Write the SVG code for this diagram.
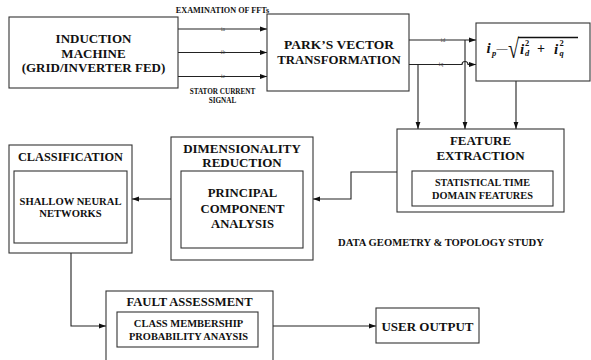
<svg xmlns="http://www.w3.org/2000/svg" width="591" height="360" viewBox="0 0 591 360">
  <defs>
    <marker id="arrow" markerWidth="7" markerHeight="6" refX="7" refY="3" orient="auto" markerUnits="userSpaceOnUse">
      <path d="M0,0.6 L7,3 L0,5.4 Z" fill="#111"/>
    </marker>
    <style>
      .box { fill: #fff; stroke: #333; stroke-width: 1.1; }
      .inner { fill: none; stroke: #333; stroke-width: 1.1; }
      .link { fill: none; stroke: #222; stroke-width: 1.1; }
      text { font-family: "Liberation Serif", "Times New Roman", serif; }
      .t { font-weight: bold; fill: #111; text-anchor: middle; }
      .sig { font-size: 5.5px; fill: #444; text-anchor: middle; }
      .math { font-style: italic; font-weight: bold; fill: #111; }
      .up { font-style: normal; font-weight: bold; fill: #111; }
    </style>
  </defs>

  <rect width="591" height="360" fill="#fff"/>

  <!-- connectors -->
  <g id="connectors">
    <line class="link" x1="178" y1="29" x2="267" y2="29" marker-end="url(#arrow)"/>
    <line class="link" x1="178" y1="52.5" x2="267" y2="52.5" marker-end="url(#arrow)"/>
    <line class="link" x1="178" y1="76.5" x2="267" y2="76.5" marker-end="url(#arrow)"/>
    <line class="link" x1="409" y1="40" x2="476" y2="40" marker-end="url(#arrow)"/>
    <path class="link" d="M409,64.5 H462 A3,3 0 0 1 468,64.5 H476" marker-end="url(#arrow)"/>
    <line class="link" x1="418" y1="64.5" x2="418" y2="129" marker-end="url(#arrow)"/>
    <line class="link" x1="465" y1="40" x2="465" y2="129" marker-end="url(#arrow)"/>
    <line class="link" x1="516" y1="81" x2="516" y2="129" marker-end="url(#arrow)"/>
    <path class="link" d="M397,172 H351 V199 H313" marker-end="url(#arrow)"/>
    <line class="link" x1="171" y1="199" x2="132" y2="199" marker-end="url(#arrow)"/>
    <path class="link" d="M71,253 V326 H106" marker-end="url(#arrow)"/>
    <line class="link" x1="273" y1="326" x2="376" y2="326" marker-end="url(#arrow)"/>
  </g>

  <!-- signal labels on the connectors -->
  <g id="signal-labels">
    <text class="t" x="222.5" y="12.7" font-size="8.2">EXAMINATION OF FFTs</text>
    <text class="sig" x="223" y="30.8">ia</text>
    <text class="sig" x="223" y="54.3">ib</text>
    <text class="sig" x="223" y="78.3">ic</text>
    <text class="t" x="222.5" y="94" font-size="7.2">STATOR CURRENT</text>
    <text class="t" x="222.5" y="102.7" font-size="7.2">SIGNAL</text>
    <text class="sig" x="443" y="41.8">id</text>
    <text class="sig" x="441" y="66.3">iq</text>
  </g>

  <g id="induction-machine">
    <rect class="box" x="9" y="17" width="169" height="71"/>
    <text class="t" x="93.5" y="42.7" font-size="13">INDUCTION</text>
    <text class="t" x="93.5" y="58.3" font-size="13">MACHINE</text>
    <text class="t" x="93.5" y="72.3" font-size="13">(GRID/INVERTER FED)</text>
  </g>

  <g id="parks-transformation">
    <rect class="box" x="267" y="14" width="142" height="77"/>
    <text class="t" x="339" y="49.3" font-size="13.5">PARK’S VECTOR</text>
    <text class="t" x="339" y="64" font-size="12.8">TRANSFORMATION</text>
  </g>

  <!-- magnitude of the Park's vector: ip = sqrt(id^2 + iq^2) -->
  <g id="current-magnitude">
    <rect class="box" x="476" y="23" width="114" height="58"/>
    <text class="math" x="486.5" y="52.5" font-size="15">i</text>
    <text class="math" x="492" y="55.5" font-size="8.5">p</text>
    <text class="up" x="496.5" y="51.5" font-size="11">—</text>
    <text class="up" x="0" y="0" font-size="20" font-weight="normal" transform="translate(508,58) scale(1,1.35)">√</text>
    <line x1="518" y1="37.4" x2="578" y2="37.4" stroke="#111" stroke-width="1.5"/>
    <text class="math" x="520" y="54" font-size="15">i</text>
    <text class="up" x="525" y="46" font-size="8.5">2</text>
    <text class="math" x="525" y="55.5" font-size="8.5">d</text>
    <text class="up" x="537" y="53" font-size="14">+</text>
    <text class="math" x="554" y="54" font-size="15">i</text>
    <text class="up" x="559.5" y="46" font-size="8.5">2</text>
    <text class="math" x="559.5" y="55.5" font-size="8.5">q</text>
  </g>

  <g id="feature-extraction">
    <rect class="box" x="397" y="129" width="167" height="83"/>
    <text class="t" x="480.5" y="145" font-size="13">FEATURE</text>
    <text class="t" x="480.5" y="160" font-size="13">EXTRACTION</text>
    <rect class="inner" x="412" y="171" width="141" height="35"/>
    <text class="t" x="482.5" y="185.7" font-size="10.1">STATISTICAL TIME</text>
    <text class="t" x="482.5" y="199" font-size="10.3">DOMAIN FEATURES</text>
  </g>

  <g id="data-study-note">
    <text class="t" x="441" y="246" font-size="10.6">DATA GEOMETRY &amp; TOPOLOGY STUDY</text>
  </g>

  <g id="dimensionality-reduction">
    <rect class="box" x="171" y="137" width="142" height="123"/>
    <text class="t" x="242" y="153.3" font-size="13">DIMENSIONALITY</text>
    <text class="t" x="242" y="167.3" font-size="13">REDUCTION</text>
    <rect class="inner" x="181" y="171" width="122" height="77"/>
    <text class="t" x="242.5" y="197.3" font-size="12.7">PRINCIPAL</text>
    <text class="t" x="242.5" y="213.3" font-size="12.7">COMPONENT</text>
    <text class="t" x="242.5" y="228.3" font-size="12.7">ANALYSIS</text>
  </g>

  <g id="classification">
    <rect class="box" x="9" y="145" width="123" height="108"/>
    <text class="t" x="70.5" y="160.7" font-size="12.3">CLASSIFICATION</text>
    <rect class="inner" x="14" y="171" width="113" height="72"/>
    <text class="t" x="70.5" y="205" font-size="10.6">SHALLOW NEURAL</text>
    <text class="t" x="70.5" y="216.7" font-size="10.6">NETWORKS</text>
  </g>

  <g id="fault-assessment">
    <rect class="box" x="106" y="291" width="167" height="75"/>
    <text class="t" x="189.5" y="306" font-size="12.6">FAULT ASSESSMENT</text>
    <rect class="inner" x="117" y="312" width="141" height="35"/>
    <text class="t" x="188.5" y="326.7" font-size="10.5">CLASS MEMBERSHIP</text>
    <text class="t" x="188.5" y="340" font-size="10.4">PROBABILITY ANAYSIS</text>
  </g>

  <g id="user-output">
    <rect class="box" x="376" y="308" width="103" height="35"/>
    <text class="t" x="427.5" y="330.7" font-size="13">USER OUTPUT</text>
  </g>
</svg>
